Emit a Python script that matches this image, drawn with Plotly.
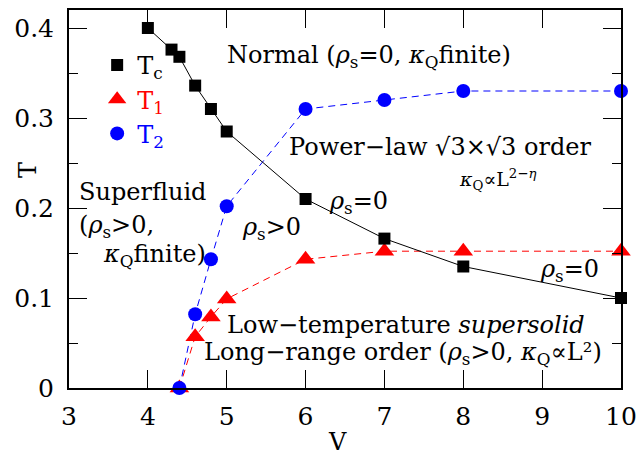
import plotly.graph_objects as go

# ---- data ----
V_c = [4.0, 4.3, 4.4, 4.6, 4.8, 5.0, 6.0, 7.0, 8.0, 10.0]
T_c = [0.400, 0.376, 0.368, 0.336, 0.310, 0.285, 0.210, 0.166, 0.135, 0.100]

V_1 = [4.4, 4.6, 4.8, 5.0, 6.0, 7.0, 8.0, 10.0]
T_1 = [0.000, 0.057, 0.079, 0.099, 0.143, 0.152, 0.152, 0.152]

V_2 = [4.4, 4.6, 4.8, 5.0, 6.0, 7.0, 8.0, 10.0]
T_2 = [0.000, 0.082, 0.143, 0.202, 0.310, 0.320, 0.330, 0.330]

x_tickvals = [3, 4, 5, 6, 7, 8, 9, 10]
x_ticktext = ["3", "4", "5", "6", "7", "8", "9", "10"]
y_tickvals = [0, 0.1, 0.2, 0.3, 0.4]
y_ticktext = ["0", "0.1", "0.2", "0.3", "0.4"]

FONT = "DejaVu Serif"
FS = 24

fig = go.Figure()

# lines
fig.add_trace(go.Scatter(x=V_1, y=T_1, mode="lines", showlegend=False,
                         line=dict(color="#ff0000", width=1, dash="7px,5px")))
fig.add_trace(go.Scatter(x=V_2, y=T_2, mode="lines", showlegend=False,
                         line=dict(color="#0000ff", width=1, dash="7px,5px")))
fig.add_trace(go.Scatter(x=V_c, y=T_c, mode="lines", showlegend=False,
                         line=dict(color="black", width=1)))

# markers
fig.add_trace(go.Scatter(x=V_1, y=T_1, mode="markers", cliponaxis=False,
                         name="<span style='color:#ff0000'>T<sub>1</sub></span>",
                         legendrank=2, legendgroup="b",
                         marker=dict(symbol="triangle-up", size=17, color="#ff0000")))
fig.add_trace(go.Scatter(x=V_2, y=T_2, mode="markers", cliponaxis=False,
                         name="<span style='color:#0000ff'>T<sub>2</sub></span>",
                         legendrank=3, legendgroup="c",
                         marker=dict(symbol="circle", size=14, color="#0000ff")))
fig.add_trace(go.Scatter(x=V_c, y=T_c, mode="markers", cliponaxis=False, name="T<sub>c</sub>",
                         legendrank=1, legendgroup="a",
                         marker=dict(symbol="square", size=12, color="black")))

ann = []
def txt(x, y, s, size=FS, xanchor="left"):
    ann.append(dict(x=x, y=y, xref="x", yref="y", text=s, showarrow=False,
                    xanchor=xanchor, yanchor="middle", font=dict(family=FONT, size=size, color="black")))

RHO = "<i>ρ</i>"
KAP = "<i>κ</i>"
txt(4.98, 0.368, f"Normal ({RHO}<sub>s</sub>=0, {KAP}<sub>Q</sub>finite)")
txt(5.77, 0.268, "Power−law √3×√3 order")
txt(7.92, 0.232, f"{KAP}<sub>Q</sub>∝L<sup>2−<i>η</i></sup>", size=19)
txt(3.10, 0.218, "Superfluid")
txt(3.10, 0.180, f"({RHO}<sub>s</sub>>0,")
txt(3.40, 0.147, f"{KAP}<sub>Q</sub>finite)")
txt(5.17, 0.177, f"{RHO}<sub>s</sub>>0")
txt(6.27, 0.206, f"{RHO}<sub>s</sub>=0")
txt(8.95, 0.131, f"{RHO}<sub>s</sub>=0")
txt(4.98, 0.070, "Low−temperature <i>supersolid</i>")
txt(4.69, 0.038, f"Long−range order ({RHO}<sub>s</sub>>0, {KAP}<sub>Q</sub>∝L²)")

ann.append(dict(x=-0.103, y=0.577, xref="paper", yref="paper", text="T", textangle=-90,
                showarrow=False, font=dict(family=FONT, size=FS, color="black")))
ann.append(dict(x=(337 - 69) / 552, y=-(442 - 388) / 378, xref="paper", yref="paper", text="V",
                showarrow=False, xanchor="center", yanchor="middle",
                font=dict(family=FONT, size=FS, color="black")))

axis_common = dict(showline=True, linecolor="black", linewidth=2, mirror="ticks",
                   ticks="inside", ticklen=18, tickwidth=1, tickcolor="black",
                   showgrid=False, zeroline=False, automargin=False,
                   tickfont=dict(family=FONT, size=25, color="black"))

fig.update_layout(
    width=639, height=458,
    margin=dict(l=69, r=18, t=10, b=70),
    paper_bgcolor="white", plot_bgcolor="white",
    xaxis=dict(range=[3, 10], tickvals=x_tickvals, ticktext=x_ticktext,
               ticklabelstandoff=5, **axis_common),
    yaxis=dict(range=[0, 0.42], tickvals=y_tickvals, ticktext=y_ticktext,
               ticklabelstandoff=8,
               minor=dict(dtick=0.05, ticks="inside", ticklen=9, tickwidth=1, tickcolor="black", showgrid=False),
               **axis_common),
    legend=dict(x=0.051, y=0.913, xanchor="left", yanchor="top", bgcolor="rgba(0,0,0,0)",
                font=dict(family=FONT, size=24, color="black"), tracegroupgap=0,
                itemwidth=30),
    annotations=ann,
    showlegend=True,
)

fig.write_html("out.html", config={"displayModeBar": False},
               post_script="document.body.style.margin='0px';")
